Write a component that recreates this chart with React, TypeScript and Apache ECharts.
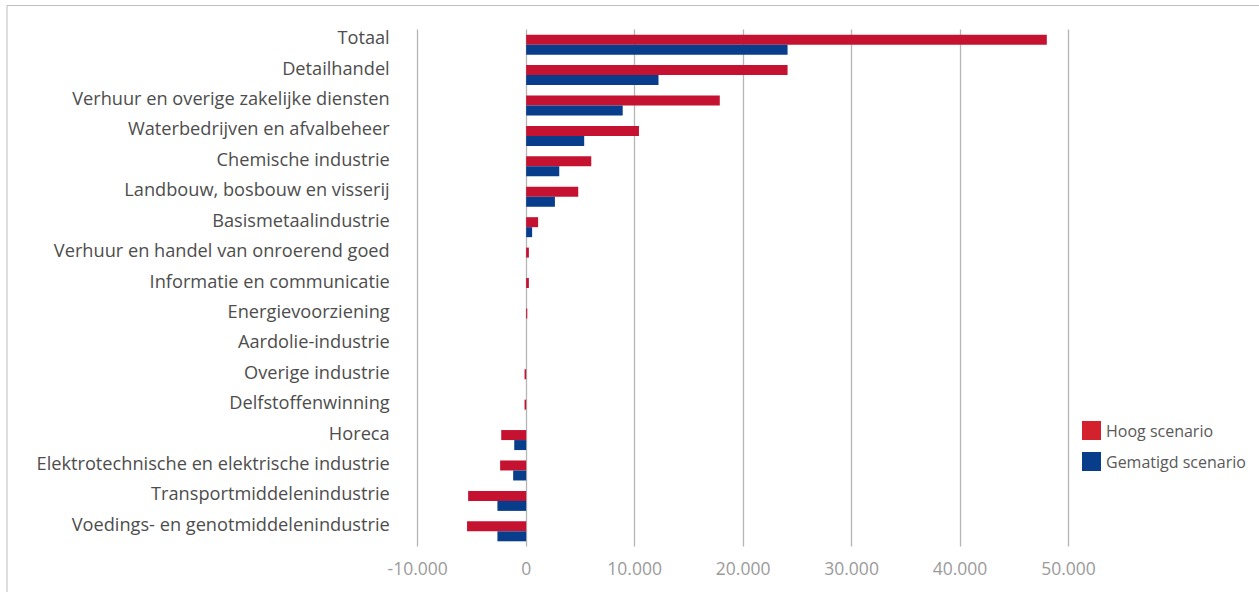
import React, { useEffect, useRef } from "react";
import * as echarts from "echarts";

const categories = [
  "Totaal",
  "Detailhandel",
  "Verhuur en overige zakelijke diensten",
  "Waterbedrijven en afvalbeheer",
  "Chemische industrie",
  "Landbouw, bosbouw en visserij",
  "Basismetaalindustrie",
  "Verhuur en handel van onroerend goed",
  "Informatie en communicatie",
  "Energievoorziening",
  "Aardolie-industrie",
  "Overige industrie",
  "Delfstoffenwinning",
  "Horeca",
  "Elektrotechnische en elektrische industrie",
  "Transportmiddelenindustrie",
  "Voedings- en genotmiddelenindustrie",
];

const hoog = [48000, 24100, 17850, 10400, 6000, 4800, 1100, 250, 250, 100, 0, -150, -150, -2300, -2400, -5350, -5450];
const gematigd = [24100, 12200, 8900, 5350, 3050, 2650, 550, 0, 0, 0, 0, 0, 0, -1100, -1200, -2650, -2650];

const xTicks = { min: -10000, max: 50000, interval: 10000 };

const RED = "#c41230";
const BLUE = "#073d8a";
const FONT = "'Open Sans', 'Noto Sans', sans-serif";

function fmt(v: number) {
  const s = Math.abs(v).toString().replace(/\B(?=(\d{3})+(?!\d))/g, ".");
  return (v < 0 ? "-" : "") + s;
}

export default function App() {
  const ref = useRef<HTMLDivElement>(null);
  useEffect(() => {
    if (!ref.current) return;
    const chart = echarts.init(ref.current, undefined, { renderer: "svg" });
    chart.setOption({
      animation: false,
      backgroundColor: "#ffffff",
      textStyle: { fontFamily: FONT },
      graphic: [
        {
          type: "rect",
          shape: { x: 7, y: 5.5, width: 1400, height: 800 },
          style: { fill: "none", stroke: "#bdbdbd", lineWidth: 1 },
          silent: true,
        },
      ],
      legend: {
        orient: "vertical",
        left: 1082,
        top: 421,
        padding: 0,
        icon: "rect",
        itemWidth: 19,
        itemHeight: 19,
        itemGap: 12,
        textStyle: { fontSize: 16, color: "#595959", fontFamily: FONT },
        data: [
          { name: "Hoog scenario", itemStyle: { color: "#d3212d" } },
          { name: "Gematigd scenario", itemStyle: { color: BLUE } },
        ],
      },
      grid: { left: 417.7, right: 190.5, top: 29.5, bottom: 45.5, containLabel: false },
      xAxis: {
        type: "value",
        min: xTicks.min,
        max: xTicks.max,
        interval: xTicks.interval,
        axisLine: { show: false },
        axisTick: { show: false },
        splitLine: { show: true, lineStyle: { color: "#b5b5b5", width: 1.3 } },
        axisLabel: {
          formatter: (v: number) => fmt(v),
          fontSize: 17.5,
          color: "#9b9b9b",
          margin: 12,
          fontFamily: FONT,
        },
      },
      yAxis: {
        type: "category",
        data: categories,
        inverse: true,
        axisLine: { show: false, onZero: false },
        axisTick: { show: false },
        splitLine: { show: false },
        axisLabel: {
          fontSize: 18.2,
          color: "#4d4d4d",
          margin: 28,
          verticalAlign: "bottom",
          lineHeight: 15,
          fontFamily: FONT,
        },
      },
      series: [
        {
          name: "Hoog scenario",
          type: "bar",
          data: hoog,
          barWidth: 10,
          barGap: "0%",
          itemStyle: { color: RED },
        },
        {
          name: "Gematigd scenario",
          type: "bar",
          data: gematigd,
          barWidth: 10,
          barGap: "0%",
          itemStyle: { color: BLUE },
        },
      ],
    });
    return () => chart.dispose();
  }, []);
  return (
    <div style={{ position: "fixed", left: 0, top: 0, width: 1259, height: 592, background: "#fff" }}>
      <div ref={ref} style={{ width: 1259, height: 592 }} />
    </div>
  );
}
